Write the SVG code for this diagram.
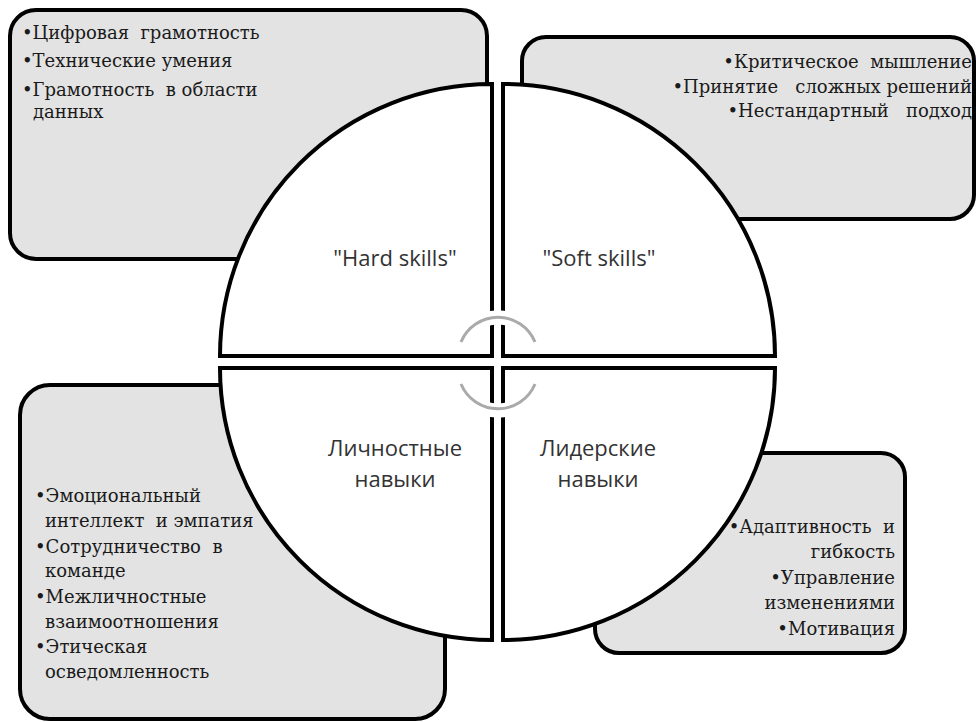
<svg xmlns="http://www.w3.org/2000/svg" width="976" height="722" viewBox="0 0 976 722">
<style>
.box{fill:#e3e3e3;stroke:#000;stroke-width:4}
.sec{fill:#fff;stroke:#000;stroke-width:4;stroke-linejoin:miter}
.lst{font-family:"DejaVu Serif","Liberation Serif",serif;font-size:18px;fill:#1a1a1a}
.lbl{font-family:"Open Sans","Noto Sans","DejaVu Sans",sans-serif;font-size:22px;fill:#333;text-anchor:middle}
.halo{fill:none;stroke:#fff;stroke-width:14}
.arc{fill:none;stroke:#aaa;stroke-width:3}
.end{text-anchor:end}
</style>
<rect width="976" height="722" fill="#fff"/>
<g id="hard-skills">
<rect class="box" x="10" y="10" width="477" height="249" rx="26"/>
<path class="sec" d="M492 356 L220 356 A272 272 0 0 1 492 84 Z"/>
<text class="lbl" x="395" y="266">"Hard skills"</text>
<text class="lst" xml:space="preserve"><tspan x="22" y="39">•Цифровая  грамотность</tspan><tspan x="22" y="67">•Технические умения</tspan><tspan x="22" y="96">•Грамотность  в области</tspan><tspan x="33" y="118">данных</tspan></text>
</g>
<g id="soft-skills">
<rect class="box" x="522" y="37" width="452" height="182" rx="24"/>
<path class="sec" d="M503 356 L503 84 A272 272 0 0 1 775 356 Z"/>
<text class="lbl" x="599" y="266">"Soft skills"</text>
<text class="lst end" xml:space="preserve"><tspan x="972" y="68">•Критическое  мышление</tspan><tspan x="972" y="93">•Принятие   сложных решений</tspan><tspan x="972" y="117">•Нестандартный   подход</tspan></text>
</g>
<g id="personal-skills">
<rect class="box" x="20" y="385" width="425" height="334" rx="30"/>
<path class="sec" d="M492 368 L492 640 A272 272 0 0 1 220 368 Z"/>
<text class="lbl"><tspan x="395" y="456">Личностные</tspan><tspan x="395" y="487">навыки</tspan></text>
<text class="lst" xml:space="preserve"><tspan x="35" y="502">•Эмоциональный</tspan><tspan x="45" y="527">интеллект  и эмпатия</tspan><tspan x="35" y="553">•Сотрудничество  в</tspan><tspan x="45" y="577">команде</tspan><tspan x="35" y="603">•Межличностные</tspan><tspan x="45" y="628">взаимоотношения</tspan><tspan x="35" y="653">•Этическая</tspan><tspan x="45" y="678">осведомленность</tspan></text>
</g>
<g id="leadership-skills">
<rect class="box" x="595" y="453" width="310" height="200" rx="24"/>
<path class="sec" d="M503 368 L775 368 A272 272 0 0 1 503 640 Z"/>
<text class="lbl"><tspan x="598" y="456">Лидерские</tspan><tspan x="598" y="487">навыки</tspan></text>
<text class="lst end" xml:space="preserve"><tspan x="895" y="533">•Адаптивность  и</tspan><tspan x="895" y="558">гибкость</tspan><tspan x="895" y="584">•Управление</tspan><tspan x="895" y="609">изменениями</tspan><tspan x="895" y="635">•Мотивация</tspan></text>
</g>
<g id="connectors">
<path class="halo" d="M484 320 A40 40 0 0 1 512 320"/>
<path class="halo" d="M484 408 A40 40 0 0 0 512 408"/>
<path class="arc" d="M461 342 A40 40 0 0 1 535 342"/>
<path class="arc" d="M461 384 A40 40 0 0 0 535 384"/>
</g>
</svg>
